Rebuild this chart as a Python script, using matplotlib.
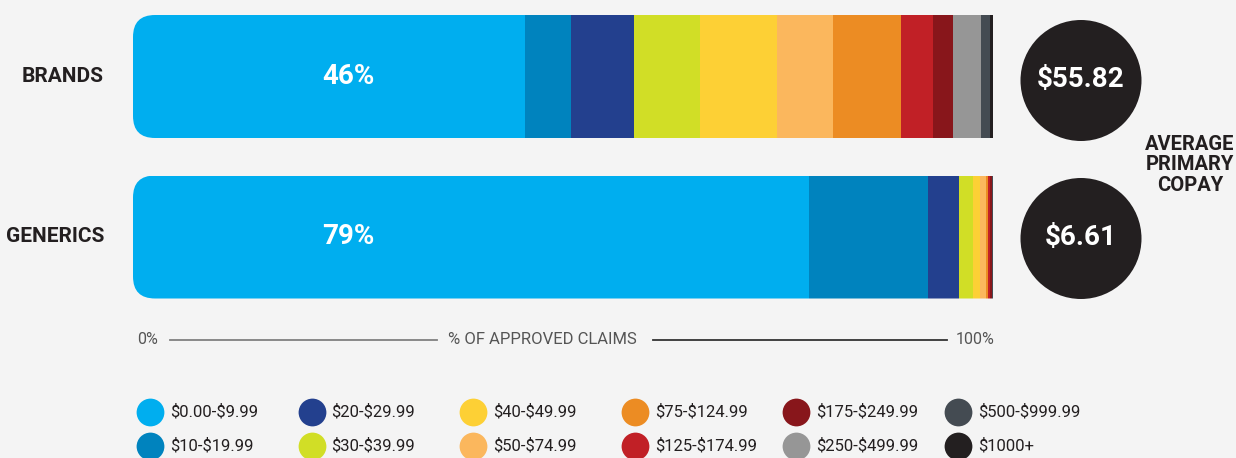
import numpy as np
import matplotlib
matplotlib.use("Agg")
from matplotlib import pyplot as plt
from matplotlib.patches import FancyBboxPatch, Circle

plt.rcParams['font.family'] = ['Roboto', 'DejaVu Sans']
plt.rcParams['text.parse_math'] = False

# data: share of approved claims (%) by copay bracket
brackets = ['$0.00-$9.99', '$10-$19.99', '$20-$29.99', '$30-$39.99',
            '$40-$49.99', '$50-$74.99', '$75-$124.99', '$125-$174.99',
            '$175-$249.99', '$250-$499.99', '$500-$999.99', '$1000+']
colors = ['#00AEEF', '#0083BE', '#23408E', '#D1DE26', '#FDD035', '#FBB75D',
          '#EC8C23', '#C12026', '#88161B', '#969696', '#444B52', '#231F20']
rows = ['BRANDS', 'GENERICS']
brands = [45.6, 5.3, 7.4, 7.6, 9.0, 6.5, 7.9, 3.7, 2.3, 3.3, 1.0, 0.4]
generics = [78.6, 13.8, 3.6, 1.7, 0.8, 0.7, 0.25, 0.25, 0.15, 0.05, 0.05, 0.05]
avg_copay = ['$55.82', '$6.61']

W, H = 1236, 458
bg = '#F4F4F4'
dark = '#231F20'

fig = plt.figure(figsize=(W / 100, H / 100), dpi=100, facecolor=bg)

# bar axes: x in percent, y in pixels
bx0, bx1 = 133, 993
axb = fig.add_axes([bx0 / W, 0, (bx1 - bx0) / W, 1])
axb.set_xlim(0, 100)
axb.set_ylim(H, 0)
axb.axis('off')

ycent = [76.5, 237]
bh = 123
pxu = (bx1 - bx0) / 100.0
rad = 22

for yc, vals in zip(ycent, [brands, generics]):
    clip = FancyBboxPatch((0, yc - bh / 2), 120, bh,
                          boxstyle='round,pad=0,rounding_size=%f' % (rad / pxu),
                          mutation_aspect=pxu, transform=axb.transData)
    left = np.concatenate([[0], np.cumsum(vals)[:-1]])
    bars = axb.barh([yc] * len(vals), vals, left=left, height=bh,
                    color=colors, linewidth=0)
    for b in bars:
        b.set_clip_path(clip)
    axb.text(25, yc, '%d%%' % round(vals[0]), color='white', fontsize=20,
             fontweight='bold', ha='center', va='center')

# overlay in pixel units
ax = fig.add_axes([0, 0, 1, 1], facecolor='none')
ax.set_xlim(0, W)
ax.set_ylim(H, 0)
ax.axis('off')

for yc, name in zip(ycent, rows):
    ax.text(104, yc, name, ha='right', va='center', fontsize=15,
            fontweight='bold', color=dark)

for yc, val in zip([80.5, 238.5], avg_copay):
    ax.add_patch(Circle((1081, yc), 60.5, color=dark, lw=0))
    ax.text(1081, yc - 1, val, ha='center', va='center', fontsize=20,
            fontweight='bold', color='white')

ax.text(1190, 165, 'AVERAGE\nPRIMARY\nCOPAY', ha='center', va='center',
        fontsize=14.5, fontweight='bold', color=dark, linespacing=1.08)

# axis caption
ya = 340
grey = '#555555'
ax.text(137, ya, '0%', ha='left', va='center', fontsize=11.5, color=grey)
ax.plot([170, 437], [ya, ya], color='#808080', lw=1.3)
ax.text(542, ya - 1, '% OF APPROVED CLAIMS', ha='center', va='center',
        fontsize=12, color=grey)
ax.plot([653, 947], [ya, ya], color='#333333', lw=1.3)
ax.text(995, ya, '100%', ha='right', va='center', fontsize=11.5, color=grey)

# legend
for i, (lab, c) in enumerate(zip(brackets, colors)):
    col, row = i // 2, i % 2
    x = 150 + col * 161.6
    y = 412 + row * 34
    ax.scatter([x], [y], s=400, color=c, lw=0)
    ax.text(x + 20, y, lab, ha='left', va='center', fontsize=12, color=dark)

fig.savefig('out.png', dpi=100, facecolor=bg)
